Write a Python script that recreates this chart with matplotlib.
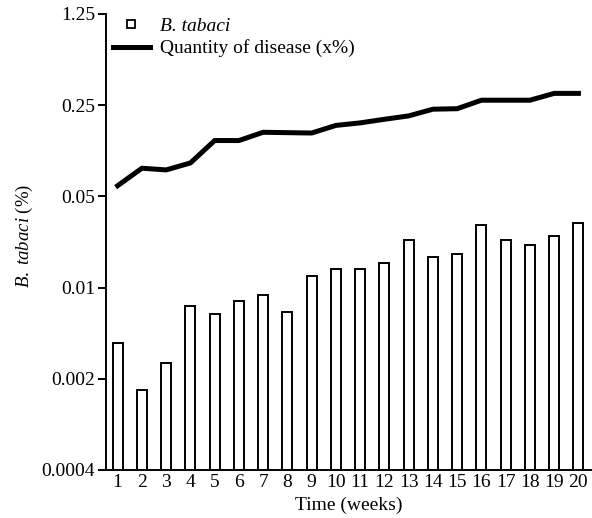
import matplotlib
matplotlib.use("Agg")
import matplotlib.pyplot as plt
from matplotlib.lines import Line2D
import numpy as np

plt.rcParams['font.family'] = ['Liberation Serif', 'DejaVu Serif']
plt.rcParams['mathtext.fontset'] = 'custom'
plt.rcParams['mathtext.rm'] = 'Liberation Serif'
plt.rcParams['mathtext.it'] = 'Liberation Serif:italic'

# data
weeks = np.arange(1, 21)
tabaci = [0.00333, 0.00124, 0.00223, 0.00682, 0.00592, 0.00749, 0.00838, 0.00605,
          0.0119, 0.0135, 0.0135, 0.0150, 0.0229, 0.0169, 0.0177, 0.0297,
          0.0229, 0.0208, 0.0246, 0.0311]
disease = [0.0604, 0.0822, 0.0798, 0.0902, 0.134, 0.134, 0.155, 0.154,
           0.153, 0.175, 0.183, 0.195, 0.207, 0.233, 0.235, 0.273,
           0.273, 0.273, 0.308, 0.308]
ytick_vals = [0.0004, 0.002, 0.01, 0.05, 0.25, 1.25]
ytick_labels = ['0.0004', '0.002', '0.01', '0.05', '0.25', '1.25']

fs = 14

fig = plt.figure(figsize=(5.92, 5.18), dpi=100)
ax = fig.add_axes([106 / 592, 1 - 470 / 518, (592 - 106) / 592, (470 - 14) / 518])

ax.bar(weeks, tabaci, width=0.41, color='white', edgecolor='black', linewidth=1.4,
       bottom=0.0004, zorder=2)
ax.plot(weeks, disease, color='black', lw=3.6, zorder=3)

ax.set_yscale('log')
ax.set_ylim(0.0004, 1.25)
ax.set_xlim(0.52, 20.56)
ax.set_yticks(ytick_vals)
ax.set_yticklabels(ytick_labels)
ax.yaxis.set_minor_locator(matplotlib.ticker.NullLocator())
ax.set_xticks(weeks)
ax.set_xticklabels([str(w) for w in weeks])
ax.tick_params(axis='y', direction='out', length=6, width=1.4, labelsize=fs, pad=2)
ax.tick_params(axis='x', length=0, labelsize=fs, pad=3)

for s in ['top', 'right']:
    ax.spines[s].set_visible(False)
for s in ['left', 'bottom']:
    ax.spines[s].set_linewidth(1.4)

ax.set_xlabel('Time (weeks)', fontsize=fs, labelpad=4)
fig.text(24 / 592, 1 - 236 / 518, r'$\mathit{B.\ tabaci}$ (%)', rotation=90,
         ha='center', va='center', fontsize=13.5)

handles = [
    Line2D([], [], marker='s', linestyle='none', markersize=5.5, markerfacecolor='white',
           markeredgecolor='black', markeredgewidth=1.3),
    Line2D([], [], color='black', lw=3.6),
]
leg = fig.legend(handles, ['B. tabaci', 'Quantity of disease (x%)'], loc='upper left',
                 bbox_to_anchor=(113 / 592, 1 - 17 / 518), frameon=False, fontsize=fs,
                 handlelength=1.9, handletextpad=0.5, labelspacing=0.25,
                 borderaxespad=0, borderpad=0)
leg.get_texts()[0].set_style('italic')

fig.savefig('out.png', dpi=100)
